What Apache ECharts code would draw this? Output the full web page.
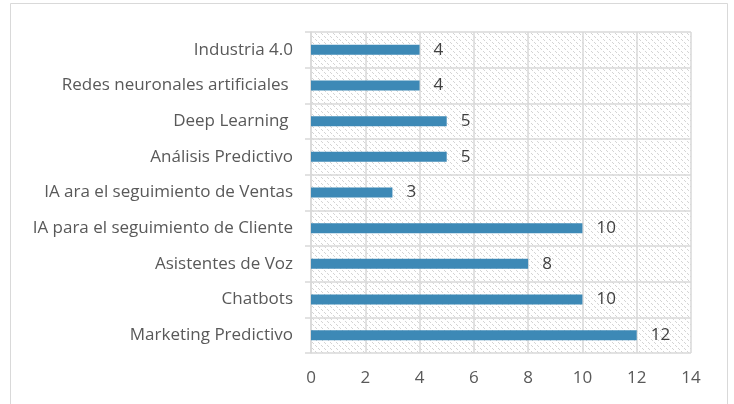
<!DOCTYPE html>
<html><head><meta charset="utf-8">
<script src="https://cdn.jsdelivr.net/npm/echarts@6/dist/echarts.min.js"></script>
<style>html,body{margin:0;padding:0;background:#fff}#c{width:734px;height:404px}</style>
</head><body><div id="c"></div>
<script>
const categories = ['Marketing Predictivo','Chatbots','Asistentes de Voz','IA para el seguimiento de Cliente','IA ara el seguimiento de Ventas','Análisis Predictivo','Deep Learning ','Redes neuronales artificiales ','Industria 4.0'];
const values = [12,10,8,10,3,5,5,4,4];
const xTicks = [0,2,4,6,8,10,12,14];

const P = 6;
const pc = document.createElement('canvas');
pc.width = P; pc.height = P;
const ctx = pc.getContext('2d');
ctx.fillStyle = '#ffffff'; ctx.fillRect(0,0,P,P);
ctx.fillStyle = '#d4d4d4';
for (let i = 0; i < P; i++) { if (i % 3 !== 2) ctx.fillRect(i, i, 1, 1); }

const FF = 'Open Sans, Liberation Sans, Arial';
const chart = echarts.init(document.getElementById('c'));
chart.setOption({
  animation:false,
  backgroundColor:'#fff',
  graphic:[{type:'rect',shape:{x:10.5,y:3.5,width:717,height:420},style:{fill:'none',stroke:'#d9d9d9',lineWidth:1},z:-10}],
  grid:{left:311,right:43,top:32,bottom:51,show:true,borderWidth:0,backgroundColor:{image:pc,repeat:'repeat'}},
  xAxis:{type:'value',min:0,max:14,interval:2,
    axisLine:{show:false},axisTick:{show:false},
    axisLabel:{color:'#595959',fontSize:17,fontFamily:FF,margin:17,formatter:v=>xTicks.includes(v)?String(v):''},
    splitLine:{show:true,lineStyle:{color:'#d9d9d9',width:1.5}}},
  yAxis:{type:'category',data:categories,
    axisLine:{show:true,lineStyle:{color:'#d9d9d9',width:1.5}},
    axisTick:{show:true,length:6,lineStyle:{color:'#d9d9d9',width:1.5}},
    splitLine:{show:true,lineStyle:{color:'#d9d9d9',width:1.5}},
    axisLabel:{color:'#595959',fontSize:17,fontFamily:FF,margin:18}},
  series:[{type:'bar',data:values,barWidth:10,
    itemStyle:{color:'#3d89b6'},
    label:{show:true,position:'right',distance:14,color:'#404040',fontSize:17,fontFamily:FF}}]
});
</script></body></html>
